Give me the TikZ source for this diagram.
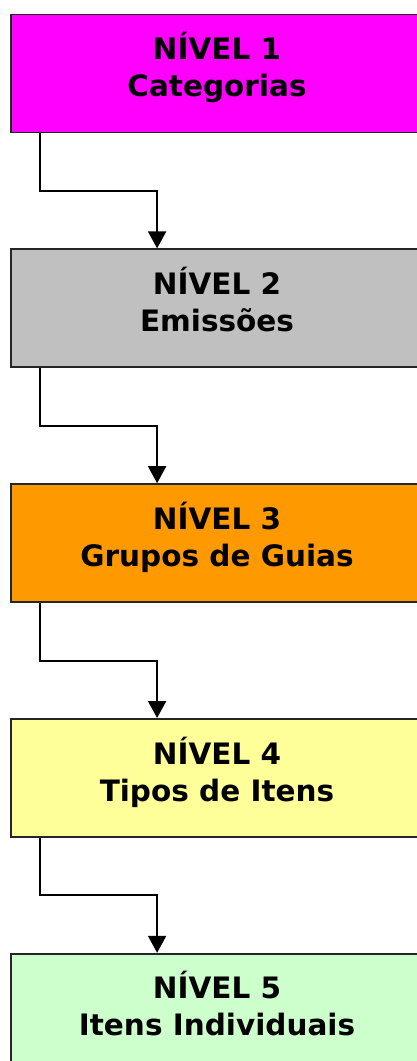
\documentclass[tikz,border=0pt]{standalone}
\usepackage{fontspec}
\setmainfont{DejaVu Sans}
\usetikzlibrary{positioning, arrows.meta, calc}
\definecolor{nivA}{HTML}{FF00FF}
\definecolor{nivB}{HTML}{C0C0C0}
\definecolor{nivC}{HTML}{FF9900}
\definecolor{nivD}{HTML}{FFFF99}
\definecolor{nivE}{HTML}{CCFFCC}
\newcommand\nivel[2]{\raisebox{0pt}[\height][\dimexpr\depth+7pt]{%
  \begin{tabular}{@{}c@{}}NÍVEL #1\\#2\end{tabular}}}
\begin{document}
\begin{tikzpicture}[
  level/.style = {draw = black!85, line width = 1.8pt, minimum width = 412pt,
    minimum height = 118pt,
    font = \fontsize{29.5}{37}\selectfont\bfseries},
  link/.style = {line width = 2pt, -{Triangle[width = 18pt, length = 17pt]}},
  node distance = 115pt]
\useasboundingbox (0,0) rectangle (417pt,-1061pt);
\clip (0,0) rectangle (417pt,-1061pt);
\node[level, fill = nivA] (n1) at (217pt,-73.5pt) {\nivel{1}{Categorias}};
\node[level, fill = nivB, below = of n1] (n2) {\nivel{2}{Emissões}};
\node[level, fill = nivC, below = of n2] (n3) {\nivel{3}{Grupos de Guias}};
\node[level, fill = nivD, below = of n3] (n4) {\nivel{4}{Tipos de Itens}};
\node[level, fill = nivE, below = of n4] (n5) {\nivel{5}{Itens Individuais}};
\foreach \a/\b in {n1/n2, n2/n3, n3/n4, n4/n5}{
  \path ([xshift = 30pt]\a.south west) coordinate (s)
    ($(\a.south)!0.5!(\b.north)$) coordinate (m)
    ([xshift = 147pt]\b.north west) coordinate (t);
  \draw[link] (s) -- (s |- m) -| (t);
}
\end{tikzpicture}
\end{document}
